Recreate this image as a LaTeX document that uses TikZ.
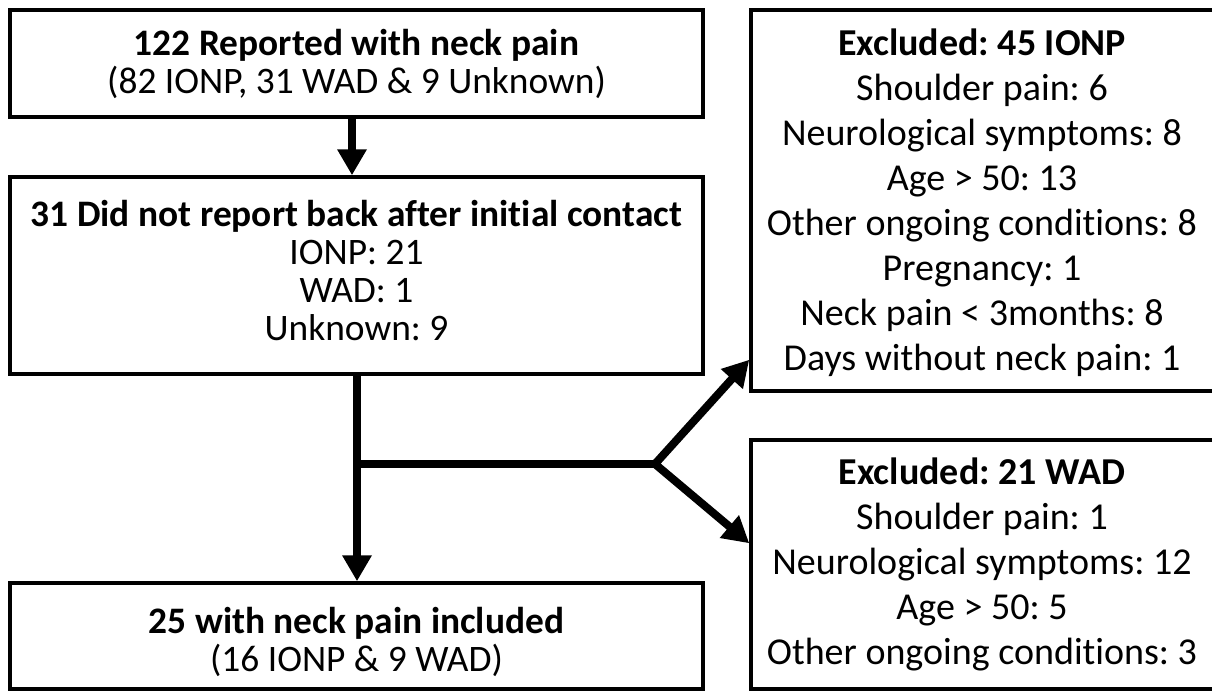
\documentclass[tikz,border=0pt]{standalone}
\usepackage{fontspec}
\setmainfont{Carlito}[Ligatures=NoCommon]
\usetikzlibrary{arrows.meta}
\frenchspacing
\begin{document}
\begin{tikzpicture}[x=1pt,y=-1pt,
  box/.style={draw=black,line width=3.5pt,rectangle,inner sep=0pt},
  ltext/.style={inner sep=0pt,align=center,font=\fontsize{37.4}{38}\selectfont},
  rtext/.style={inner sep=0pt,align=center,font=\fontsize{38}{45}\selectfont},
  arr/.style={line width=8pt,-{Triangle[width=28pt,length=26pt]}},
  conn/.style={line width=8pt}]
\useasboundingbox (0,0) rectangle (1212,691);
\node[box,minimum width=693pt,minimum height=107pt] (b1) at (356.5,63.5) {};
\node[ltext] (b1t) at (356.5,64)
  {\textbf{122 Reported with neck pain}\\(82 IONP, 31 WAD \& 9 Unknown)};
\node[box,minimum width=693pt,minimum height=197pt] (b2) at (356.5,275.5) {};
\node[ltext] (b2t) at (356.5,270.5)
  {\textbf{31 Did not report back after initial contact}\\IONP: 21\\WAD: 1\\Unknown: 9};
\node[box,minimum width=693pt,minimum height=106pt] (b3) at (356.5,636) {};
\node[ltext] (b3t) at (356.5,642)
  {\textbf{25 with neck pain included}\\(16 IONP \& 9 WAD)};
\node[box,minimum width=463pt,minimum height=381pt] (rt) at (982.5,200.5) {};
\node[rtext] (rtt) at (982,203)
  {\textbf{Excluded: 45 IONP}\\Shoulder pain: 6\\Neurological symptoms: 8\\Age > 50: 13\\Other ongoing conditions: 8\\Pregnancy: 1\\Neck pain < 3months: 8\\Days without neck pain: 1};
\node[box,minimum width=463pt,minimum height=249pt] (rb) at (982.5,564.5) {};
\node[rtext] (rbt) at (982,564)
  {\textbf{Excluded: 21 WAD}\\Shoulder pain: 1\\Neurological symptoms: 12\\Age > 50: 5\\Other ongoing conditions: 3};
% arrows
\draw[arr] ([xshift=-4.5pt]b1.south) -- ([xshift=-4.5pt]b2.north);
\draw[arr] ([xshift=0.5pt]b2.south) -- ([xshift=0.5pt]b3.north);
\coordinate (j) at ([xshift=0.5pt]b2.south |- 0,464);
\coordinate (k) at (655,464);
\coordinate (t1) at ([yshift=33pt]rt.south west);
\coordinate (t2) at ([yshift=-105pt]rb.north west);
\draw[conn] (j) -- (k);
\draw[line width=8pt,line join=miter,{Triangle[width=28pt,length=26pt]}-{Triangle[width=28pt,length=26pt]}] (t1) -- (k) -- (t2);
\end{tikzpicture}
\end{document}
